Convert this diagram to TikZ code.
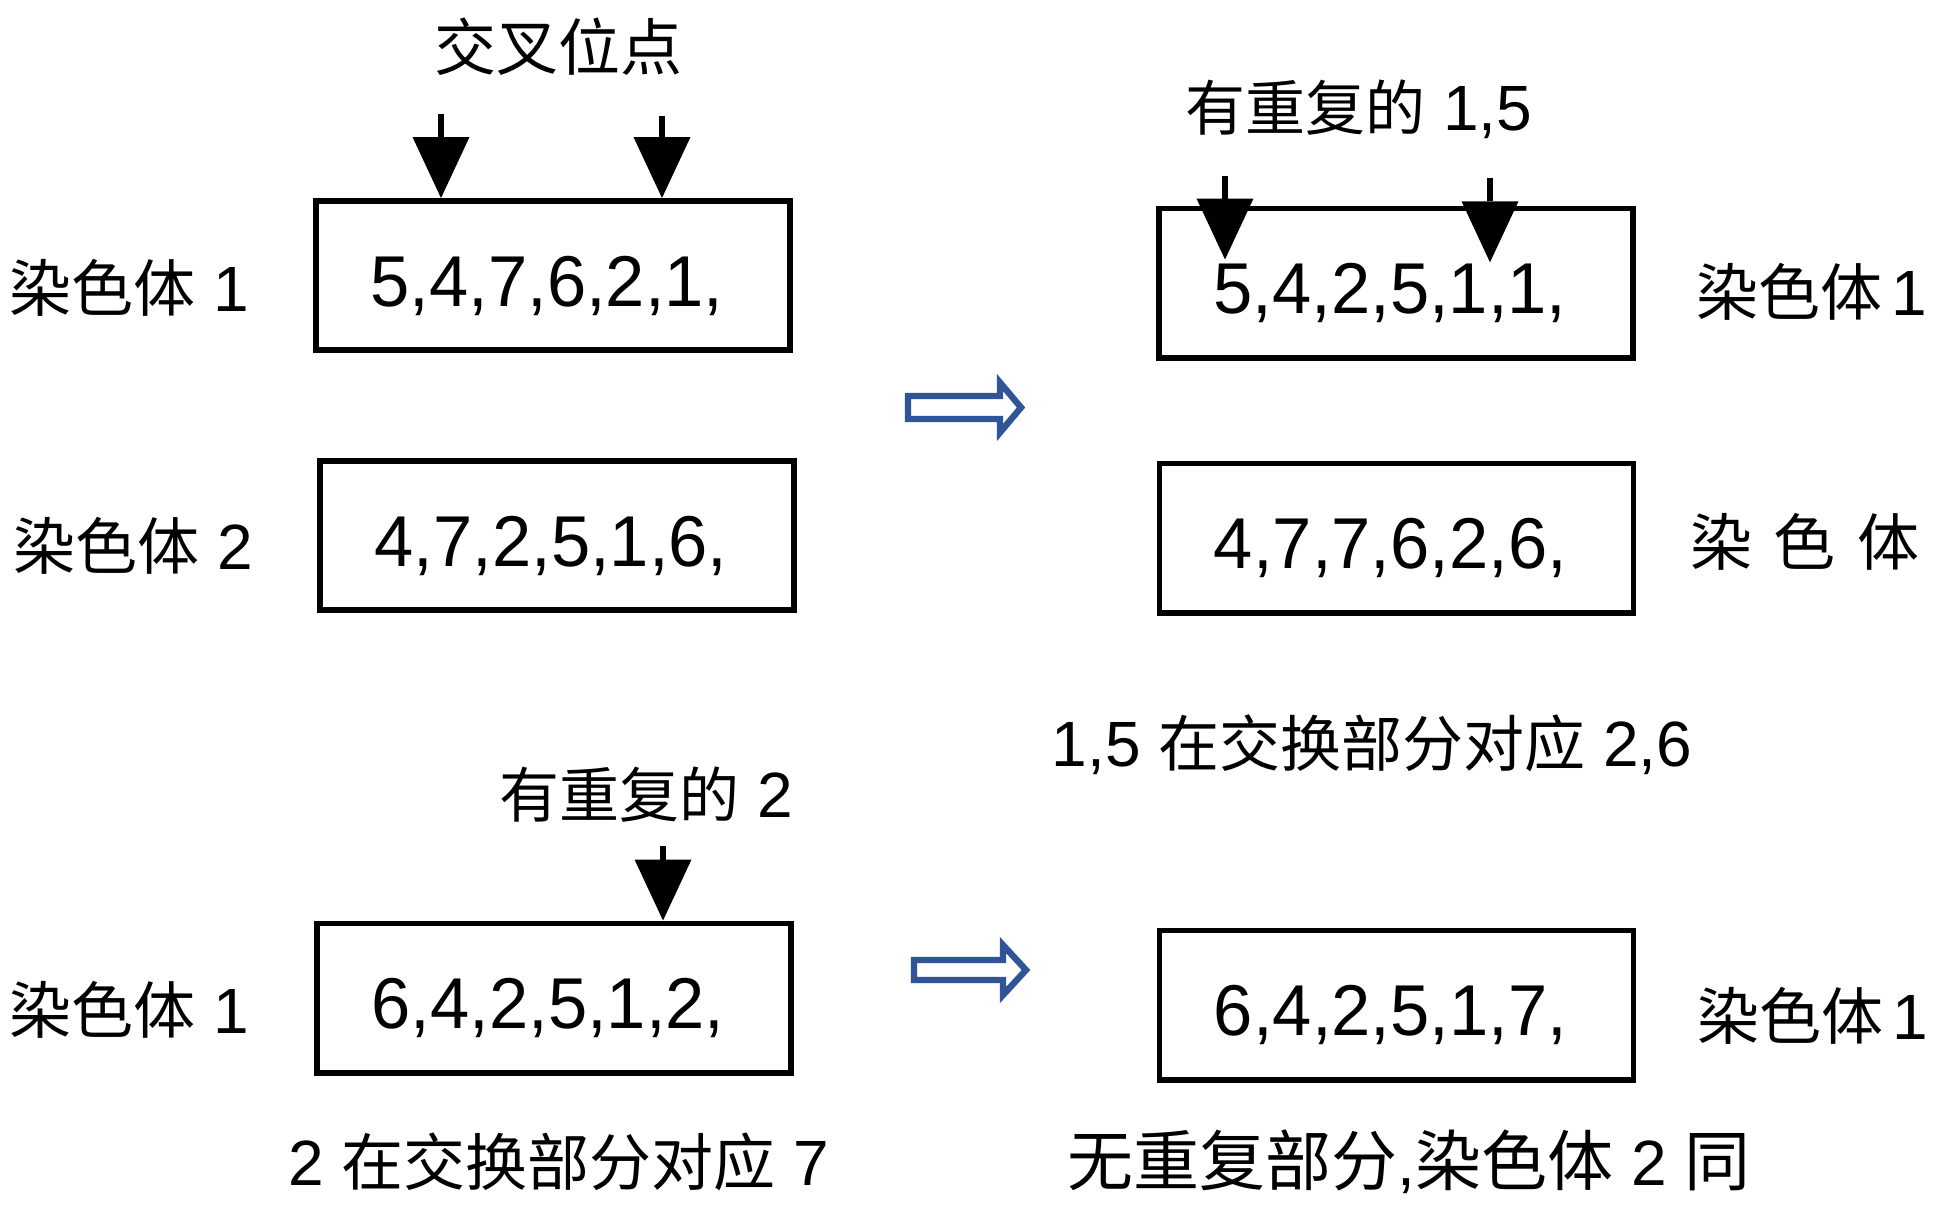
\documentclass[tikz,border=0pt]{standalone}
\usepackage{fontspec}
\setmainfont{Liberation Sans}
\newfontfamily\boxdigits[FakeStretch=0.98]{Liberation Sans}
\newfontfamily\cjk{Noto Sans CJK SC}
\usetikzlibrary{arrows.meta,calc}
\definecolor{arrowblue}{RGB}{47,85,151}
\newcommand\zh[2][30]{{\cjk\fontsize{#1}{#1}\selectfont #2}}
\begin{document}
\begin{tikzpicture}[x=0.5pt,y=-0.5pt,
  box/.style={draw, line width=2.8pt, minimum width=237pt, minimum height=74.7pt, inner sep=0pt,
    text height=36pt, text depth=5.2pt, font=\boxdigits\fontsize{36}{40}\selectfont},
  lbl/.style={inner sep=0pt, font=\fontsize{32}{36}\selectfont},
  pin/.style={line width=3pt, -{Triangle[length=30.5pt, width=28.5pt, line width=0pt]}},
  fat/.style={draw=arrowblue, line width=3.2pt, fill=white, line join=miter}]
\useasboundingbox (0,0) rectangle (1940,1212);

% boxes
\node[box] (A) at (553,275.5) {5,4,7,6,2,1,\hspace*{6pt}};
\node[box] (B) at (557,535.5) {4,7,2,5,1,6,\hspace*{6pt}};
\node[box] (C) at (1396,283) {5,4,2,5,1,1,\hspace*{6pt}};
\node[box] (D) at (1396.5,538) {4,7,7,6,2,6,\hspace*{6pt}};
\node[box] (E) at (554,998) {6,4,2,5,1,2,\hspace*{6pt}};
\node[box] (F) at (1396.5,1005) {6,4,2,5,1,7,\hspace*{6pt}};

% pointer arrows
\coordinate (a1) at (441,114);
\coordinate (a2) at (662,116);
\coordinate (c1) at (1225,176);
\coordinate (c2) at (1490,178);
\coordinate (e1) at (663,846);
\draw[pin] (a1) -- (a1 |- A.north);
\draw[pin] (a2) -- (a2 |- A.north);
\draw[pin] (c1) -- ($(c1 |- C.north)+(0,-27pt)$);
\draw[pin] (c2) -- ($(c2 |- C.north)+(0,-28.4pt)$);
\draw[pin] (e1) -- (e1 |- E.north);

% block arrows
\draw[fat] (908,396) -- (1000,396) -- (1000,382.5) -- (1021,407.5) -- (1000,432.5) -- (1000,419) -- (908,419) -- cycle;
\draw[fat] (914,960) -- (1003,960) -- (1003,945) -- (1026,970) -- (1003,995) -- (1003,980) -- (914,980) -- cycle;

% labels
\node[lbl] (t1) at (558,47) {\zh[31]{交叉位点}};
\node[lbl] (t2) at (1359,109) {\zh{有重复的} 1,5};
\node[lbl] (l1) at (129,287.5) {\zh[31]{染色体} 1};
\node[lbl] (l2) at (133,546) {\zh[31]{染色体} 2};
\node[lbl] (r1) at (1811.5,292) {\zh[31]{染色体}\hspace{4.5pt}1};
\node[lbl] (r2) at (1805,542) {\zh[31]{染\hspace{11pt}色\hspace{11pt}体}};
\node[lbl] (n1) at (1372,745) {1,5 \zh[30.5]{在交换部分对应} 2,6};
\node[lbl] (t3) at (646.5,795) {\zh{有重复的} 2};
\node[lbl] (l3) at (129,1010) {\zh[31]{染色体} 1};
\node[lbl] (r3) at (1813,1016) {\zh[31]{染色体}\hspace{4.5pt}1};
\node[lbl] (n2) at (558.5,1162) {2 \zh[31]{在交换部分对应} 7};
\node[lbl] (n3) at (1409,1162) {\zh[33]{无重复部分},\zh[33]{染色体} 2 \zh[33]{同}};
\end{tikzpicture}
\end{document}
